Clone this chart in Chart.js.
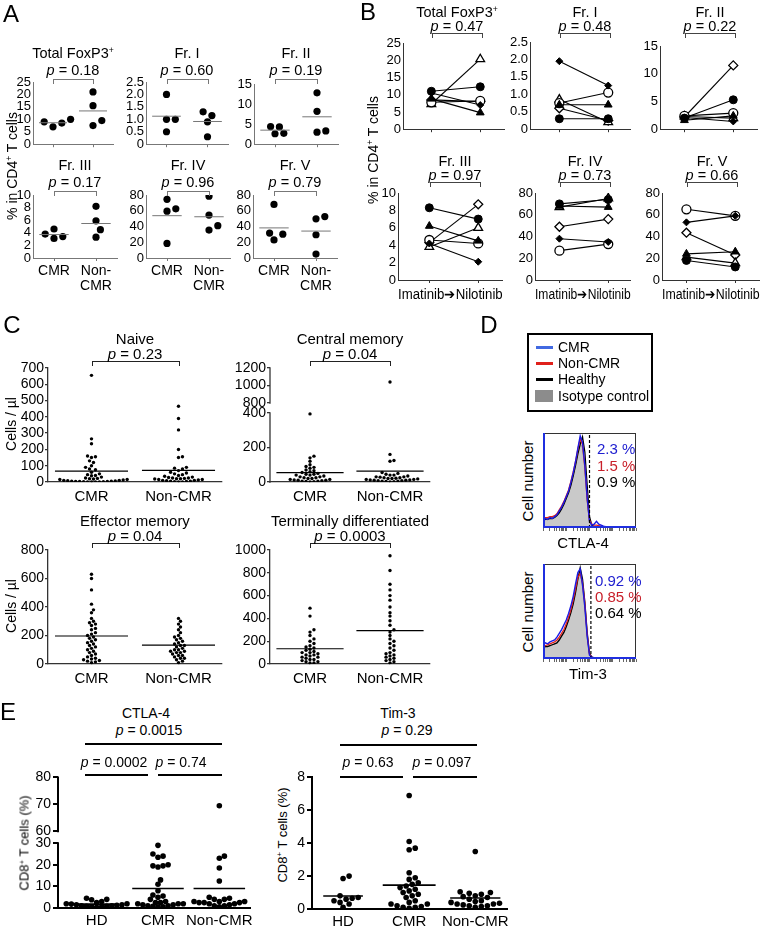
<!DOCTYPE html>
<html>
<head>
<meta charset="utf-8">
<script src="https://cdn.jsdelivr.net/npm/chart.js@4.4.1/dist/chart.umd.min.js"></script>
<style>
  body { margin: 0; width: 770px; height: 932px; position: relative; overflow: hidden; background: #fff;
         font-family: "Liberation Sans", Arial, Helvetica, sans-serif; color: #000; }
  .c { position: absolute; }
  .t { position: absolute; white-space: nowrap; line-height: 1; transform: translate(-50%, -50%); z-index: 2; }
  .t.l { transform: translate(0, -50%); }
  .t.r { transform: translate(-50%, -50%) rotate(-90deg); }
  .br { position: absolute; border: 1px solid #666; border-bottom: none; height: 5px; box-sizing: border-box; }
  .hl { position: absolute; height: 2px; background: #000; }
  .sw { position: absolute; }
  sup { font-size: 0.6em; vertical-align: 0.55em; line-height: 0; }
</style>
</head>
<body>
<script>
// ---- A: % in CD4+ T cells, CMR vs Non-CMR ----
const aTotalCMR = [9.0, 10.0, 7.0, 8.5];
const aTotalNon = [21.0, 15.5, 9.5, 7.5];
const aFr1CMR = [2.0, 1.0, 1.0, 0.5];
const aFr1Non = [1.3, 1.15, 0.9, 0.3];
const aFr2CMR = [4.4, 4.3, 2.6, 2.7];
const aFr2Non = [12.8, 8.2, 3.0, 3.3];
const aFr3CMR = [3.8, 4.6, 3.1, 3.4];
const aFr3Non = [8.2, 5.9, 4.5, 3.3];
const aFr4CMR = [74.5, 62.5, 59.5, 18.5];
const aFr4Non = [78.5, 54.5, 41, 35.5];
const aFr5CMR = [68, 31.6, 30.3, 23];
const aFr5Non = [49.7, 52.6, 29.5, 5];
const aLabels = ['CMR', ['Non-', 'CMR']];

// ---- B: paired Imatinib -> Nilotinib (marker order below) ----
const bMarkers = ['dot', 'tri', 'dia', 'ocirc', 'otri', 'odia'];
const bTotalIm = [11.0, 8.8, 10.5, 7.8, 7.3, 8.5];
const bTotalNi = [12.3, 4.8, 7.0, 8.2, 20.3, 8.0];
const bFr1Im = [0.3, 0.7, 1.95, 0.75, 0.85, 0.6];
const bFr1Ni = [0.3, 0.7, 1.25, 1.05, 0.2, 0.25];
const bFr2Im = [2.0, 1.6, 2.1, 2.4, 2.3, 2.2];
const bFr2Ni = [5.3, 2.4, 1.4, 2.9, 2.0, 11.5];
const bFr3Im = [8.3, 6.2, 4.2, 4.6, 3.8, 4.3];
const bFr3Ni = [7.0, 4.5, 2.1, 4.2, 6.0, 8.7];
const bFr4Im = [70, 68, 38, 27, 67, 49];
const bFr4Ni = [74, 67, 35, 33, 75, 56];
const bFr5Im = [18, 24, 53, 65, 21, 43.5];
const bFr5Ni = [12, 26, 59, 59, 15.5, 23];

// ---- C: cells / µl ----
const cNaiveCMR = [655, 265, 235, 160, 155, 150, 130, 120, 100, 90, 80, 75, 60, 50, 45, 40, 38, 30, 25, 22, 20, 18, 15, 15, 12, 10, 10, 8, 6, 5, 5, 4, 3, 3, 2, 2, 1, 1, 0, 0];
const cNaiveNon = [465, 390, 320, 200, 155, 150, 90, 85, 80, 70, 60, 55, 50, 45, 40, 35, 30, 28, 25, 25, 22, 20, 20, 18, 15, 15, 12, 10, 10, 8, 5, 5, 3, 2, 1, 0];
const cCmCMR = [395, 150, 140, 120, 100, 90, 85, 80, 70, 65, 60, 55, 50, 45, 45, 40, 40, 35, 30, 30, 25, 25, 20, 20, 15, 15, 12, 10, 10, 8, 5, 5, 3, 2, 1];
const cCmNon = [1040, 160, 125, 120, 55, 50, 45, 40, 40, 35, 30, 30, 28, 25, 25, 22, 20, 20, 18, 15, 15, 12, 12, 10, 10, 8, 8, 5, 5, 3, 2, 1];
const cEmCMR = [630, 600, 520, 420, 360, 380, 320, 280, 300, 290, 270, 250, 240, 220, 210, 200, 190, 180, 170, 160, 150, 140, 130, 120, 110, 100, 90, 80, 70, 60, 50, 40, 30, 20, 15, 10, 25, 35];
const cEmNon = [320, 300, 280, 260, 240, 220, 200, 190, 180, 170, 160, 150, 140, 130, 130, 120, 110, 100, 100, 90, 90, 80, 80, 70, 60, 60, 50, 40, 40, 30, 20, 10];
const cTdCMR = [490, 420, 300, 280, 250, 220, 200, 180, 160, 150, 140, 130, 120, 110, 100, 100, 90, 80, 80, 70, 60, 60, 50, 40, 40, 30, 20, 20, 10, 10];
const cTdNon = [950, 820, 700, 650, 600, 560, 500, 450, 420, 380, 340, 300, 280, 250, 220, 200, 180, 160, 140, 120, 100, 90, 80, 70, 60, 50, 40, 30, 20, 10];
const cLabels = ['CMR', 'Non-CMR'];
const cCmTicks = [0, 200, 400, 800, 1000, 1200];

// ---- D: histograms (bins left to right) ----
const dCtlaIso = [9, 9, 10, 10, 11, 12, 14, 17, 21, 26, 32, 38, 46, 56, 67, 80, 90, 84, 62, 28, 6, 2, 1, 0.5, 0, 0, 0, 0, 0, 0, 0, 0, 0, 0, 0, 0, 0, 0, 0, 0, 0];
const dCtlaHealthy = [8, 9, 9, 10, 10, 11, 13, 16, 20, 25, 31, 37, 45, 55, 66, 78, 88, 96, 80, 45, 12, 3, 1.5, 1, 0.8, 0.5, 0.3, 0, 0, 0, 0, 0, 0, 0, 0, 0, 0, 0, 0, 0, 0];
const dCtlaNon = [10, 11, 11, 12, 12, 13, 15, 19, 23, 28, 34, 40, 49, 59, 70, 83, 94, 88, 64, 30, 8, 4, 3, 3, 2.5, 2, 1.5, 1, 0.8, 0.5, 0.3, 0, 0, 0, 0, 0, 0, 0, 0, 0, 0];
const dCtlaCMR = [8, 10, 9, 11, 10, 12, 14, 18, 22, 27, 33, 39, 48, 58, 70, 84, 97, 90, 66, 32, 7, 3, 4, 7, 4, 3, 2, 1.5, 1, 0.8, 0.8, 0.8, 0.8, 0.8, 0.8, 0.8, 0.8, 0.8, 0.8, 0.8, 0.8];
const dCtlaGate = 20;
const dCtlaPct = ['2.3 %', '1.5 %', '0.9 %'];
const dTimIso = [13, 13, 14, 14, 15, 16, 18, 21, 25, 29, 35, 42, 50, 60, 72, 86, 92, 76, 52, 22, 4, 1, 0.5, 0, 0, 0, 0, 0, 0, 0, 0, 0, 0, 0, 0, 0, 0, 0, 0, 0, 0];
const dTimHealthy = [12, 13, 13, 14, 15, 16, 17, 20, 24, 28, 34, 41, 49, 58, 70, 84, 96, 84, 60, 28, 6, 2, 1, 0.5, 0, 0, 0, 0, 0, 0, 0, 0, 0, 0, 0, 0, 0, 0, 0, 0, 0];
const dTimNon = [14, 14, 15, 16, 17, 18, 20, 23, 27, 31, 37, 44, 52, 62, 74, 86, 90, 80, 58, 26, 5, 2, 1, 0.5, 0.3, 0, 0, 0, 0, 0, 0, 0, 0, 0, 0, 0, 0, 0, 0, 0, 0];
const dTimCMR = [15, 17, 16, 18, 19, 20, 23, 27, 31, 36, 41, 48, 56, 66, 79, 91, 95, 78, 55, 24, 4, 2, 1.5, 1, 1, 1, 1, 1, 1, 1, 1, 1, 1, 1, 1, 1, 1, 1, 1, 1, 1];
const dTimGate = 20.6;
const dTimPct = ['0.92 %', '0.85 %', '0.64 %'];

// ---- E: CD8+ T cells (%) ----
const eCtlaHD = [4.5, 4, 3.8, 3, 2.5, 2, 2, 1.8, 1.5, 1.5, 1.2, 1, 1, 0.8, 0.8, 0.5, 0.5, 0.3];
const eCtlaCMR = [29, 25, 24, 23.5, 20, 19.5, 19.5, 19, 13, 11, 8, 6, 5.5, 5, 4, 3, 2.5, 2.5, 2, 2, 2, 1.5, 1.5, 1, 1, 0.8, 0.5, 0.5];
const eCtlaNon = [69.5, 24, 23, 18.5, 12.5, 5, 4.5, 4, 4, 3, 3, 3, 2.5, 2.5, 2.5, 2, 2, 1.5, 1, 1, 0.5];
const eTimHD = [2.0, 1.85, 0.8, 0.7, 0.65, 0.6, 0.5, 0.4, 0.3, 0.1];
const eTimCMR = [6.9, 4.1, 3.7, 3.6, 2.2, 1.9, 1.8, 1.6, 1.5, 1.4, 1.3, 1.2, 1.1, 1.0, 0.9, 0.8, 0.7, 0.5, 0.4, 0.3, 0.3, 0.2, 0.15, 0.1, 0.1, 0.05];
const eTimNon = [3.5, 1.05, 1.0, 0.95, 0.9, 0.8, 0.75, 0.7, 0.6, 0.5, 0.45, 0.4, 0.35, 0.3, 0.3, 0.25, 0.2, 0.2, 0.15, 0.1];
const eLabels = ['HD', 'CMR', 'Non-CMR'];
const eCtlaTicks = [0, 10, 20, 30, 60, 70, 80];

const FONT = '"Liberation Sans", Arial, Helvetica, sans-serif';
Chart.defaults.font.family = FONT;
Chart.defaults.color = '#000';
Chart.defaults.animation = false;
Chart.defaults.events = [];
Chart.defaults.plugins.legend.display = false;
Chart.defaults.plugins.tooltip.enabled = false;

// broken axes: where the scale jumps
const cmBreak = v => (v <= 400 ? v : 458 + (v - 800) * 0.5075);
const ctlaBreak = v => (v <= 30 ? v : 35.5 + (v - 60) * 1.2475);

function makeFrame(o) {
    return {
        id: 'frame',
        afterDatasetsDraw(chart) {
            const { ctx, chartArea: a } = chart;
            ctx.save();
            if (o.segments) {
                const y = chart.scales.y;
                ctx.strokeStyle = o.color;
                ctx.lineWidth = o.width;
                o.segments.forEach(([lo, hi]) => {
                    ctx.beginPath();
                    ctx.moveTo(a.left, y.getPixelForValue(lo) + o.width / 2);
                    ctx.lineTo(a.left, y.getPixelForValue(hi) - o.width / 2);
                    ctx.stroke();
                });
            }
            if (o.box) {
                ctx.lineWidth = 1;
                ctx.strokeStyle = o.box;
                ctx.strokeRect(a.left + 0.5, a.top + 0.5, a.width - 1, a.height - 1);
                ctx.lineWidth = 2;
                ctx.strokeStyle = o.edge;
                ctx.beginPath();
                ctx.moveTo(a.left + 1, a.top);
                ctx.lineTo(a.left + 1, a.bottom - 1);
                ctx.lineTo(a.right, a.bottom - 1);
                ctx.stroke();
            }
            ctx.restore();
        }
    };
}

function plot(g, datasets, s) {
    const padL = 2, padT = 10, padR = s.padR ?? 8;
    const left = g.ax - s.yW - padL, top = g.top - padT;
    const w = g.right + padR - left, h = g.bottom + s.xH - top;
    const box = document.createElement('div');
    box.className = 'c';
    box.style.cssText = `left:${left}px;top:${top}px;width:${w}px;height:${h}px`;
    const cv = document.createElement('canvas');
    box.appendChild(cv);
    document.body.appendChild(box);

    const y = {
        min: g.yMin ?? 0, max: g.yMax,
        afterFit: sc => { sc.width = s.yW; },
        grid: { drawOnChartArea: false, tickLength: s.yTickLen ?? 0, color: s.axis, lineWidth: s.axisW },
        border: { display: !s.frame, color: s.axis, width: s.axisW },
        ticks: { display: s.yLabels !== false, autoSkip: false, padding: s.yPad ?? 2, stepSize: g.yStep,
                 font: { size: s.yFont ?? 13 }, callback: s.yFmt || (v => v) }
    };
    if (s.yTicks) y.afterBuildTicks = sc => { sc.ticks = s.yTicks.map(v => ({ value: v })); };

    new Chart(cv, {
        type: 'scatter',
        data: { datasets },
        plugins: [makeFrame(s.frame || {})],
        options: {
            responsive: true, maintainAspectRatio: false,
            layout: { padding: { left: padL, top: padT, right: padR, bottom: 0 } },
            scales: {
                x: {
                    min: g.xMin ?? 0.5, max: g.xMax ?? 2.5,
                    afterBuildTicks: sc => { sc.ticks = s.xTicks.map(v => ({ value: v })); },
                    afterFit: sc => { sc.height = s.xH; },
                    grid: { drawOnChartArea: false, tickLength: s.xTickLen ?? 0, color: s.axis, lineWidth: s.axisW },
                    border: { display: s.xBorder !== false, color: s.axis, width: s.axisW },
                    ticks: { autoSkip: false, maxRotation: 0, padding: s.xPad ?? 3,
                             font: { size: s.xFont ?? 14, lineHeight: 1.1 },
                             callback: (v, i) => (s.xLabels ? s.xLabels[i] : '') },
                    title: { display: !!s.xTitle, text: s.xTitle || '', font: { size: s.xFont ?? 14 }, padding: 0 }
                },
                y
            }
        }
    });
}

// simple beeswarm: spreads points that would overlap (pixel space)
function swarm(vals, cx, pxY, pxX, d) {
    const order = vals.map((v, i) => i).sort((a, b) => vals[a] - vals[b]);
    const placed = [];
    const out = new Array(vals.length);
    const step = d * 0.55;
    order.forEach(i => {
        const py = vals[i] * pxY;
        for (let k = 0; k < 400; k++) {
            const off = (k % 2 ? 1 : -1) * Math.ceil(k / 2) * step;
            if (placed.every(p => (p.x - off) ** 2 + (p.y - py) ** 2 >= d * d * 0.9)) {
                placed.push({ x: off, y: py });
                out[i] = { x: cx + off / pxX, y: vals[i] };
                break;
            }
        }
    });
    return out;
}

function groupSets(g, groups, st) {
    const tf = st.tf || (v => v);
    const pxY = (g.bottom - g.top) / (g.yMax - (g.yMin ?? 0));
    const pxX = (g.right - g.ax) / ((g.xMax ?? 2.5) - (g.xMin ?? 0.5));
    const sets = [];
    groups.forEach((vals, gi) => {
        const cx = gi + 1;
        const m = vals.reduce((a, b) => a + b, 0) / vals.length;
        const hw = st.half[gi];
        sets.push({ data: [{ x: cx - hw, y: tf(m) }, { x: cx + hw, y: tf(m) }], showLine: true, pointRadius: 0,
                    borderColor: st.meanColor, borderWidth: st.meanW });
        sets.push({ data: swarm(vals.map(tf), cx, pxY, pxX, st.d), pointRadius: st.r,
                    pointBackgroundColor: '#000', pointBorderWidth: 0 });
    });
    return sets;
}

function markerStyle(m) {
    const filled = { pointBackgroundColor: '#000', pointBorderColor: '#000', pointBorderWidth: 1 };
    const open = { pointBackgroundColor: '#fff', pointBorderColor: '#000', pointBorderWidth: 1.3 };
    switch (m) {
        case 'dot': return { pointStyle: 'circle', pointRadius: 4, ...filled };
        case 'tri': return { pointStyle: 'triangle', pointRadius: 4.5, ...filled };
        case 'dia': return { pointStyle: 'rectRot', pointRadius: 3.5, ...filled };
        case 'ocirc': return { pointStyle: 'circle', pointRadius: 4.5, ...open };
        case 'otri': return { pointStyle: 'triangle', pointRadius: 5, ...open };
        default: return { pointStyle: 'rectRot', pointRadius: 4.5, ...open };
    }
}

function pairSets(im, ni) {
    return im.map((v, i) => ({
        data: [{ x: 1, y: v }, { x: 2, y: ni[i] }],
        showLine: true, borderColor: '#000', borderWidth: 1.1, ...markerStyle(bMarkers[i])
    }));
}

function histSets(iso, healthy, non, cmr, gate) {
    const pts = a => a.map((v, i) => ({ x: i, y: v }));
    const line = (a, c, w) => ({ data: pts(a), showLine: true, pointRadius: 0, borderColor: c, borderWidth: w });
    return [
        { data: [{ x: gate, y: 0 }, { x: gate, y: 100 }], showLine: true, pointRadius: 0,
          borderColor: '#000', borderWidth: 1.2, borderDash: [3, 2] },
        line(cmr, '#1a1ae6', 1.4),
        line(non, '#e3211c', 1.3),
        line(healthy, '#000', 1.3),
        { ...line(iso, '#8a8a8a', 0.8), backgroundColor: '#c9c9c9', fill: 'origin' }
    ];
}

// ---- text helpers ----
function put(html, x, y, size, cls = '', color = '#000') {
    const el = document.createElement('div');
    el.className = 't ' + cls;
    el.style.cssText = `left:${x}px;top:${y}px;font-size:${size}px;color:${color}`;
    el.innerHTML = html;
    document.body.appendChild(el);
}
function bracket(x1, x2, y, color) {
    const el = document.createElement('div');
    el.className = 'br';
    el.style.cssText = `left:${x1}px;top:${y}px;width:${x2 - x1 + 1}px;border-color:${color}`;
    document.body.appendChild(el);
}
function hline(x1, x2, y) {
    const el = document.createElement('div');
    el.className = 'hl';
    el.style.cssText = `left:${x1}px;top:${y}px;width:${x2 - x1}px`;
    document.body.appendChild(el);
}
function swatch(x, y, w, h, c) {
    const el = document.createElement('div');
    el.className = 'sw';
    el.style.cssText = `left:${x}px;top:${y}px;width:${w}px;height:${h}px;background:${c}`;
    document.body.appendChild(el);
}
const P = v => `<i>p</i> = ${v}`;

// ================= Panel A =================
const aGeo = [
    { ax: 33, top: 82, bottom: 145, right: 113, yMax: 25, yStep: 5 },
    { ax: 146, top: 82, bottom: 145, right: 228, yMax: 2.5, yStep: 0.5 },
    { ax: 254, top: 84, bottom: 145, right: 338, yMax: 15, yStep: 5 },
    { ax: 33, top: 195, bottom: 258, right: 117, yMax: 10, yStep: 2 },
    { ax: 146, top: 195, bottom: 258, right: 230, yMax: 80, yStep: 20 },
    { ax: 253, top: 195, bottom: 258, right: 337, yMax: 80, yStep: 20 }
];
const aGroups = [[aTotalCMR, aTotalNon], [aFr1CMR, aFr1Non], [aFr2CMR, aFr2Non],
                 [aFr3CMR, aFr3Non], [aFr4CMR, aFr4Non], [aFr5CMR, aFr5Non]];
const aTitles = ['Total FoxP3<sup>+</sup>', 'Fr. I', 'Fr. II', 'Fr. III', 'Fr. IV', 'Fr. V'];
const aP = ['0.18', '0.60', '0.19', '0.17', '0.96', '0.79'];
const aYW = [30, 26, 20, 30, 26, 22];
aGeo.forEach((g, i) => {
    const row2 = i >= 3;
    plot(g, groupSets(g, aGroups[i], { r: 3.6, d: 8, half: [0.35, 0.35], meanColor: '#777', meanW: 1 }), {
        yW: aYW[i], xH: row2 ? 38 : 9, xTicks: [1, 2], xLabels: row2 ? aLabels : null, xTickLen: 3, xPad: 2,
        axis: '#777', axisW: 1, yFont: 13,
        yFmt: g.yMax === 2.5 ? (v => (v === 0 ? '0' : v.toFixed(1))) : null
    });
    const pxX = (g.right - g.ax) / 2;
    const t1 = g.ax + 0.5 * pxX, t2 = g.ax + 1.5 * pxX;
    const ty = row2 ? 165 : 53;
    put(aTitles[i], (t1 + t2) / 2, ty, 14.5);
    put(P(aP[i]), (t1 + t2) / 2, ty + 17, 14.5);
    bracket(t1, t2, ty + 26, '#777');
});
put('% in CD4<sup>+</sup> T cells', 12, 166, 14, 'r');
put('A', 11, 14, 24);

// ================= Panel B =================
const bGeo = [
    { ax: 403, top: 43, bottom: 130, right: 507, xMin: 0.42, xMax: 2.5, yMax: 25, yStep: 5 },
    { ax: 530, top: 42, bottom: 130, right: 633, xMin: 0.4, xMax: 2.46, yMax: 2.5, yStep: 0.5 },
    { ax: 660, top: 46, bottom: 130, right: 760, xMin: 0.5, xMax: 2.5, yMax: 15, yStep: 5 },
    { ax: 398, top: 193, bottom: 280, right: 505, xMin: 0.36, xMax: 2.5, yMax: 10, yStep: 2 },
    { ax: 535, top: 193, bottom: 280, right: 633, xMin: 0.5, xMax: 2.46, yMax: 80, yStep: 20 },
    { ax: 662, top: 193, bottom: 280, right: 762, xMin: 0.5, xMax: 2.5, yMax: 80, yStep: 20 }
];
const bPairs = [[bTotalIm, bTotalNi], [bFr1Im, bFr1Ni], [bFr2Im, bFr2Ni],
                [bFr3Im, bFr3Ni], [bFr4Im, bFr4Ni], [bFr5Im, bFr5Ni]];
const bP = ['0.47', '0.48', '0.22', '0.97', '0.73', '0.66'];
bGeo.forEach((g, i) => {
    const row2 = i >= 3;
    plot(g, pairSets(bPairs[i][0], bPairs[i][1]), {
        yW: 24, xH: row2 ? 24 : 9, xTicks: [1, 2], xTickLen: 3, padR: 4,
        xTitle: row2 ? 'Imatinib\u2794Nilotinib' : null,
        axis: '#333', axisW: 1, yFont: 13,
        yFmt: g.yMax === 2.5 ? (v => (v === 0 ? '0' : v.toFixed(1))) : null
    });
    const pxX = (g.right - g.ax) / (g.xMax - g.xMin);
    const t1 = g.ax + (1 - g.xMin) * pxX, t2 = g.ax + (2 - g.xMin) * pxX;
    const ty = row2 ? 161 : 12;
    put(aTitles[i], (t1 + t2) / 2, ty, 14.5);
    put(P(bP[i]), (t1 + t2) / 2, ty + 14, 14.5);
    bracket(t1, t2, ty + 21, '#444');
});
put('% in CD4<sup>+</sup> T cells', 373, 150, 14, 'r');
put('B', 368, 12, 24);

// ================= Panel C =================
const cGeo = [
    { ax: 48, top: 368, bottom: 482, right: 222, yMax: 700, yStep: 100 },
    { ax: 270, top: 368, bottom: 482, right: 430, yMax: cmBreak(1200) },
    { ax: 48, top: 550, bottom: 664, right: 222, yMax: 800, yStep: 200 },
    { ax: 270, top: 550, bottom: 664, right: 430, yMax: 1000, yStep: 200 }
];
const cGroups = [[cNaiveCMR, cNaiveNon], [cCmCMR, cCmNon], [cEmCMR, cEmNon], [cTdCMR, cTdNon]];
const cTitles = ['Naive', 'Central memory', 'Effector memory', 'Terminally differentiated'];
const cP = ['0.23', '0.04', '0.04', '0.0003'];
cGeo.forEach((g, i) => {
    const broken = i === 1;
    const st = { r: 1.7, d: 3.6, half: [0.42, 0.42], meanColor: '#000', meanW: 1.2 };
    if (broken) st.tf = cmBreak;
    const s = {
        yW: i % 2 ? 38 : 30, xH: 26, xTicks: [1, 2], xLabels: cLabels, xPad: 7, xFont: 15,
        axis: '#333', axisW: 1.3, yFont: 14, yTickLen: 3, yPad: 1
    };
    if (broken) {
        s.yTicks = cCmTicks.map(cmBreak);
        s.yFmt = (v, k) => cCmTicks[k];
        s.frame = { segments: [[0, 400], [cmBreak(800), cmBreak(1200)]], color: '#333', width: 1.3 };
    }
    plot(g, groupSets(g, cGroups[i], st), s);
    const pxX = (g.right - g.ax) / 2;
    const t1 = g.ax + 0.5 * pxX, t2 = g.ax + 1.5 * pxX;
    const ty = i < 2 ? 338 : 520;
    put(cTitles[i], (t1 + t2) / 2, ty, 15);
    put(P(cP[i]), (t1 + t2) / 2, ty + 15, 15);
    bracket(t1, t2, ty + 23, '#222');
});
put('Cells / µl', 11, 424, 14, 'r');
put('Cells / µl', 11, 606, 14, 'r');
put('C', 12, 325, 24);

// ================= Panel D =================
put('D', 489, 325, 24);
const lg = document.createElement('div');
lg.style.cssText = 'position:absolute;left:527px;top:333px;width:126px;height:79px;border:2px solid #000;box-sizing:border-box';
document.body.appendChild(lg);
swatch(536, 346, 17, 3, '#4169e1');
swatch(536, 362, 17, 3, '#e0201b');
swatch(536, 378, 17, 3, '#000');
swatch(535, 390, 18, 12, '#8c8c8c');
put('CMR', 558, 347, 14, 'l');
put('Non-CMR', 558, 363, 14, 'l');
put('Healthy', 558, 379, 14, 'l');
put('Isotype control', 558, 396, 14, 'l');

const histTicks = [];
for (let dec = 0; dec < 4; dec++) for (let k = 1; k <= 9; k++) histTicks.push(dec * 10 + 10 * Math.log10(k));
histTicks.push(40);
const histStyle = {
    yW: 0, xH: 6, padR: 2, xTicks: histTicks, xTickLen: 3, xBorder: false, yLabels: false,
    axis: '#666', axisW: 1, frame: { box: '#333', edge: '#1f2fe0' }
};
plot({ ax: 542, top: 433, bottom: 528, right: 637, xMin: 0, xMax: 40, yMax: 100 },
     histSets(dCtlaIso, dCtlaHealthy, dCtlaNon, dCtlaCMR, dCtlaGate), histStyle);
plot({ ax: 542, top: 564, bottom: 659, right: 637, xMin: 0, xMax: 40, yMax: 100 },
     histSets(dTimIso, dTimHealthy, dTimNon, dTimCMR, dTimGate), histStyle);
const pctColors = ['#2020d0', '#c8202a', '#000'];
dCtlaPct.forEach((s, i) => put(s, 597, 448 + i * 16.5, 15, 'l', pctColors[i]));
dTimPct.forEach((s, i) => put(s, 595, 580 + i * 16, 15, 'l', pctColors[i]));
put('Cell number', 527, 481, 15, 'r');
put('Cell number', 527, 612, 15, 'r');
put('CTLA-4', 583, 542, 15);
put('Tim-3', 588, 673, 15);

// ================= Panel E =================
put('E', 8, 712, 24);
const eCtlaGeo = { ax: 58, top: 777, bottom: 908, right: 250, xMin: 0.37, xMax: 3.5, yMax: ctlaBreak(80) };
plot(eCtlaGeo, groupSets(eCtlaGeo, [eCtlaHD, eCtlaCMR, eCtlaNon],
        { r: 2.8, d: 4.6, half: [0.32, 0.42, 0.42], meanColor: '#000', meanW: 1.6, tf: ctlaBreak }), {
    yW: 26, xH: 24, xTicks: [1, 2, 3], xLabels: eLabels, xPad: 5, xFont: 15, padR: 12,
    axis: '#000', axisW: 2, yFont: 14, yTickLen: 5, yPad: 2,
    yTicks: eCtlaTicks.map(ctlaBreak), yFmt: (v, k) => eCtlaTicks[k],
    frame: { segments: [[0, 30], [ctlaBreak(60), ctlaBreak(80)]], color: '#000', width: 2 }
});
const eTimGeo = { ax: 312, top: 777, bottom: 909, right: 507, xMin: 0.53, xMax: 3.48, yMax: 8, yStep: 2 };
plot(eTimGeo, groupSets(eTimGeo, [eTimHD, eTimCMR, eTimNon],
        { r: 2.8, d: 5.5, half: [0.3, 0.4, 0.38], meanColor: '#000', meanW: 1.6 }), {
    yW: 20, xH: 24, xTicks: [1, 2, 3], xLabels: eLabels, xPad: 5, xFont: 15, padR: 12,
    axis: '#000', axisW: 2, yFont: 14, yTickLen: 5, yPad: 2
});
put('CTLA-4', 146, 713, 14);
put(P('0.0015'), 149, 730, 14);
hline(85, 222, 743);
put(P('0.0002'), 114, 762, 14);
put(P('0.74'), 181, 762, 14);
hline(85, 148, 774);
hline(158, 222, 774);
put('Tim-3', 398, 713, 14);
put(P('0.29'), 407, 730, 14);
hline(340, 477, 744);
put(P('0.63'), 368, 762, 14);
put(P('0.097'), 442, 762, 14);
hline(340, 403, 776);
hline(413, 477, 776);
put('CD8<sup>+</sup> T cells (%)', 24, 843, 13, 'r');
put('CD8<sup>+</sup> T cells (%)', 282, 835, 13, 'r');
</script>
</body>
</html>
